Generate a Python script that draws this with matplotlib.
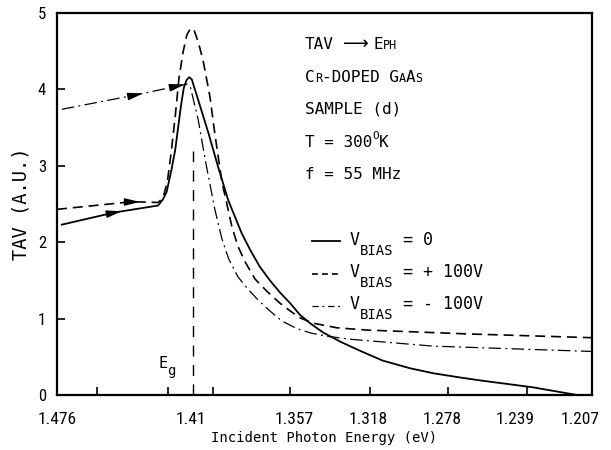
import numpy as np
import matplotlib
matplotlib.use("Agg")
import matplotlib.pyplot as plt
import matplotlib.font_manager as fm


def pick(names, fallback):
    for name in names:
        try:
            fm.findfont(name, fallback_to_default=False)
            return name
        except Exception:
            pass
    return fallback


MONO = "DejaVu Sans Mono"
NARROW = pick(["Liberation Sans Narrow", "DejaVu Sans Condensed", "Roboto Condensed"], None)

# ---------------- data (x = linear scan position 0..100) ----------------
x_zero = [0.9, 10.8, 18.9, 19.8, 20.5, 21.4, 22.1, 22.6, 23.2, 23.7, 24.2, 24.7,
          25.2, 26.4, 28.3, 30.1, 32.0, 34.5, 36.1, 37.9, 39.8, 41.7, 43.6, 45.4,
          47.3, 49.7, 52.9, 56.6, 60.9, 66.0, 70.3, 75.3, 79.7, 84.7, 89.0, 93.1,
          97.2]
y_zero = [2.23, 2.39, 2.48, 2.56, 2.66, 2.95, 3.21, 3.48, 3.80, 4.02, 4.12, 4.16,
          4.13, 3.86, 3.43, 2.99, 2.55, 2.12, 1.90, 1.68, 1.50, 1.34, 1.20, 1.05,
          0.94, 0.82, 0.70, 0.58, 0.45, 0.35, 0.285, 0.23, 0.185, 0.14, 0.10, 0.05,
          0.0]

x_plus = [0.0, 14.0, 18.9, 19.8, 20.6, 21.3, 22.1, 22.8, 23.6, 24.3, 25.0, 25.6,
          26.4, 27.3, 28.6, 29.5, 30.8, 32.7, 33.8, 35.1, 37.0, 39.2, 41.7, 43.6,
          45.4, 47.9, 52.3, 57.9, 76.6, 100.0]
y_plus = [2.43, 2.53, 2.52, 2.58, 2.78, 3.15, 3.65, 4.15, 4.50, 4.72, 4.80, 4.78,
          4.62, 4.38, 3.90, 3.42, 2.80, 2.20, 1.95, 1.75, 1.52, 1.36, 1.20, 1.10,
          1.01, 0.94, 0.88, 0.85, 0.80, 0.75]

x_minus = [0.9, 14.9, 23.6, 24.3, 24.9, 26.4, 27.7, 29.5, 30.8, 32.1, 33.8, 35.5,
           37.5, 39.8, 42.0, 44.8, 47.5, 50.4, 54.8, 70.3, 100.0]
y_minus = [3.74, 3.93, 4.06, 4.07, 4.04, 3.60, 3.08, 2.43, 2.05, 1.78, 1.55, 1.40,
           1.25, 1.10, 0.97, 0.87, 0.81, 0.77, 0.73, 0.64, 0.57]

# arrow tips (x positions) on each curve
arrow_zero = [12.1]
arrow_plus = [15.5]
arrow_minus = [16.1, 23.9]

eg_x = 25.5
eg_top = 3.2

tick_labels = ["1.476", "1.41", "1.357", "1.318", "1.278", "1.239", "1.207"]
tick_pos = [0.0, 25.0, 44.3, 58.1, 71.9, 85.7, 97.7]
minor_pos = [7.4, 20.7, 29.2, 43.6, 58.5, 73.1, 87.9]
y_ticks = [0, 1, 2, 3, 4, 5]

# ---------------- figure ----------------
fig = plt.figure(figsize=(6.11, 4.5), dpi=100)
ax = fig.add_axes([0.0933, 0.1222, 0.8756, 0.8489])

ax.plot(x_zero, y_zero, color="black", lw=1.3, solid_joinstyle="round")
ax.plot(x_plus, y_plus, color="black", lw=1.2, linestyle=(0, (6, 3.5)))
ax.plot(x_minus, y_minus, color="black", lw=0.9, linestyle=(0, (10, 3.5, 1.5, 3.5)))
ax.plot([eg_x, eg_x], [0, eg_top], color="black", lw=1.0, linestyle=(0, (8, 6)))


def add_arrows(xs, ys, tips):
    for t in tips:
        tail = t - 2.0
        ax.annotate("", xy=(t, np.interp(t, xs, ys)),
                    xytext=(tail, np.interp(tail, xs, ys)),
                    arrowprops=dict(arrowstyle="-|>,head_length=0.9,head_width=0.22",
                                    color="black", lw=1.0, shrinkA=0, shrinkB=0))


add_arrows(x_zero, y_zero, arrow_zero)
add_arrows(x_plus, y_plus, arrow_plus)
add_arrows(x_minus, y_minus, arrow_minus)

ax.set_xlim(0, 100)
ax.set_ylim(0, 5)
ax.set_xticks(tick_pos)
if NARROW:
    ax.set_xticklabels(tick_labels, fontfamily=NARROW, fontsize=12.5)
else:
    ax.set_xticklabels(tick_labels, fontfamily=MONO, fontsize=9.8)
ax.tick_params(axis="x", which="major", length=0, pad=12)
ax.set_xticks(minor_pos, minor=True)
ax.tick_params(axis="x", which="minor", direction="in", length=6, width=1.2)
ax.set_yticks(y_ticks)
ax.set_yticklabels([str(v) for v in y_ticks], fontfamily=NARROW or MONO,
                   fontsize=12 if NARROW else 10.5)
ax.tick_params(axis="y", direction="in", length=6, width=1.2, pad=8)
for s in ax.spines.values():
    s.set_linewidth(1.6)

ax.set_ylabel("TAV (A.U.)", fontfamily=MONO, fontsize=13.5)
ax.yaxis.set_label_coords(-0.05, 0.5)
ax.set_xlabel("Incident Photon Energy (eV)", fontfamily=MONO, fontsize=10)
ax.xaxis.set_label_coords(0.5, -0.095)

renderer = fig.canvas.get_renderer()


def rich(x, y, parts):
    off = 0.0
    for part in parts:
        s, size, dy = part[:3]
        fam = part[3] if len(part) > 3 else MONO
        t = ax.annotate(s, xy=(x, y), xycoords="axes fraction", xytext=(off, dy),
                        textcoords="offset points", fontsize=size, family=fam,
                        va="baseline", ha="left")
        if fam == MONO:
            off += len(s) * 0.602 * size
        else:
            off += t.get_window_extent(renderer=renderer).width * 72 / fig.dpi + 3


BIG, SMALL = 11.5, 8.5
X0 = 0.4636
rich(X0, 0.9058, [("TAV", BIG, 0), (" ", BIG, 0), ("\u27f6", 13, 0, "DejaVu Sans"),
                  ("E", BIG, 0), ("PH", SMALL, 0)])
rich(X0, 0.8194, [("C", BIG, 0), ("R", SMALL, 0), ("-DOPED G", BIG, 0),
                  ("A", SMALL, 0), ("A", BIG, 0), ("S", SMALL, 0)])
rich(X0, 0.7382, [("SAMPLE (d)", BIG, 0)])
rich(X0, 0.6492, [("T = 300", BIG, 0), ("O", 8, 5.5), ("K", BIG, 0)])
rich(X0, 0.5654, [("f = 55 MHz", BIG, 0)])

# Eg label
rich(0.189, 0.0707, [("E", 11, 0), ("g", 10, -5)])

# legend
leg_rows = [("0", 0.3927, 0.4031, dict(lw=1.3, linestyle="-")),
            ("+ 100V", 0.3089, 0.3168, dict(lw=1.2, linestyle=(0, (3.5, 2.5)))),
            ("- 100V", 0.2251, 0.2330, dict(lw=0.9, linestyle=(0, (5, 3, 1.5, 3))))]
for val, yb, yl, sty in leg_rows:
    ax.plot([0.4766, 0.529], [yl, yl], transform=ax.transAxes, color="black", **sty)
    rich(0.5477, yb, [("V", 12, 0), ("BIAS", 10, -7), (" = " + val, 12, 0)])

fig.savefig("out.png", dpi=100)
